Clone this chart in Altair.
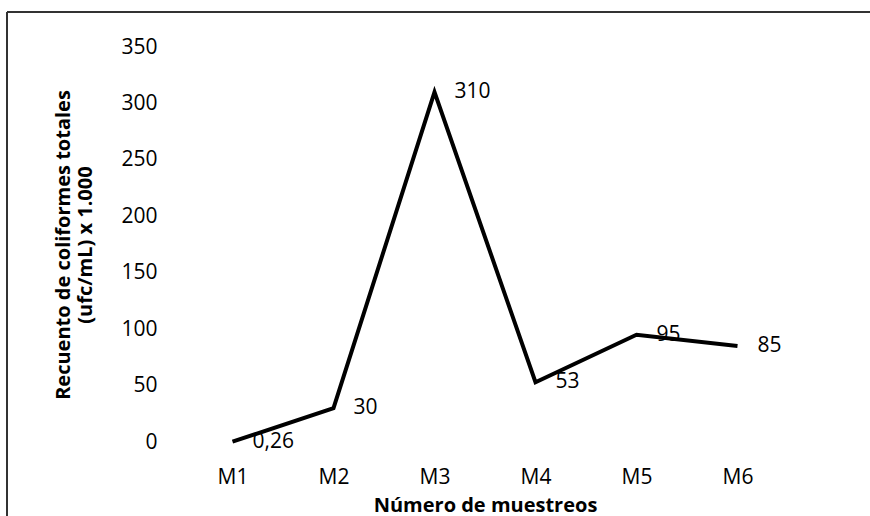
import altair as alt
import pandas as pd

# Sampling rounds and total coliform counts (ufc/mL x 1.000)
muestreos = ["M1", "M2", "M3", "M4", "M5", "M6"]
recuento = [0.26, 30, 310, 53, 95, 85]
y_ticks = [0, 50, 100, 150, 200, 250, 300, 350]

etiquetas = [f"{v:g}".replace(".", ",") for v in recuento]

df = pd.DataFrame({"muestreo": muestreos, "recuento": recuento, "etiqueta": etiquetas})

FONT = "Open Sans"
LABEL_SIZE = 21
TITLE_SIZE = 20

x_enc = alt.X(
    "muestreo:O",
    sort=muestreos,
    scale=alt.Scale(type="point", padding=0.5),
    axis=alt.Axis(
        title="Número de muestreos",
        labelAngle=0,
        labelFontSize=LABEL_SIZE,
        labelColor="#000000",
        labelPadding=24,
        ticks=False,
        domain=False,
        titleFontSize=TITLE_SIZE,
        titleFontWeight="bold",
        titleColor="#000000",
        titlePadding=8,
    ),
)
y_enc = alt.Y(
    "recuento:Q",
    scale=alt.Scale(domain=[0, 350], nice=False, zero=True),
    axis=alt.Axis(
        title=["Recuento de coliformes totales", "(ufc/mL) x 1.000"],
        values=y_ticks,
        grid=False,
        ticks=False,
        domain=False,
        labelFontSize=LABEL_SIZE,
        labelColor="#000000",
        labelPadding=25,
        titleFontSize=TITLE_SIZE,
        titleFontWeight="bold",
        titleColor="#000000",
        titlePadding=25,
        titleLineHeight=22,
    ),
)

linea = alt.Chart(df).mark_line(color="#000000", strokeWidth=4, strokeJoin="miter").encode(
    x=x_enc, y=y_enc
)

texto = alt.Chart(df).mark_text(
    align="left", baseline="middle", dx=20, fontSize=LABEL_SIZE, font=FONT, color="#000000"
).encode(x=alt.X("muestreo:O", sort=muestreos), y="recuento:Q", text="etiqueta:N")

# Outer frame of the figure: only its top and left edges fall inside the page
marco_sup = alt.Chart(df).mark_rule(stroke="#333333", strokeWidth=1.5).encode(
    x=alt.value(-175), x2=alt.value(688), y=alt.value(-35)
)
marco_izq = alt.Chart(df).mark_rule(stroke="#333333", strokeWidth=1.5).encode(
    x=alt.value(-175), y=alt.value(-35), y2=alt.value(469)
)

chart = (
    alt.layer(marco_sup, marco_izq, linea, texto)
    .properties(
        width=606,
        height=395,
        autosize=alt.AutoSizeParams(type="none"),
        padding={"left": 182, "top": 47, "right": 82, "bottom": 74},
    )
    .configure(font=FONT)
    .configure_view(stroke=None)
)

chart.save("out.html", embed_options={"renderer": "svg", "actions": False})
